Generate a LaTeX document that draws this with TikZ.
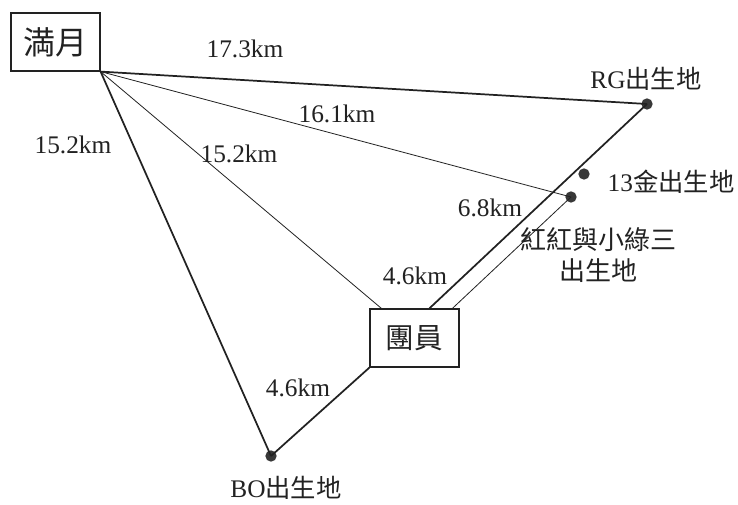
\documentclass[tikz,border=0pt]{standalone}
\usepackage{fontspec}
\setmainfont{Liberation Serif}
\newfontfamily\cjk{Noto Sans CJK TC}
\usetikzlibrary{calc}
\definecolor{ink}{HTML}{222222}
\tikzset{
  boxnode/.style={draw=ink, line width=0.9pt, minimum width=66.75pt, minimum height=43.5pt, inner sep=0pt, text=ink},
  dotnode/.style={circle, fill=ink!90, inner sep=0pt, minimum size=8.5pt},
  lbl/.style={text=ink, inner sep=0pt, font=\fontsize{19}{22}\selectfont},
  thickline/.style={draw=ink, line width=1.3pt},
  thinline/.style={draw=ink, line width=0.6pt}
}
\begin{document}
\begin{tikzpicture}[x=0.75pt,y=-0.75pt]
\useasboundingbox (0,0) rectangle (738,505);
\fill[white] (0,0) rectangle (738,505);
% boxes
\node[boxnode, font=\cjk\fontsize{24}{26}\selectfont] (moon) at (55.5,42) {満月};
\node[boxnode, font=\cjk\fontsize{21.5}{24}\selectfont] (team) at (414.5,338) {團員};
% dots
\node[dotnode] (rg) at (647,104) {};
\node[dotnode] (jin) at (584,174) {};
\node[dotnode] (hh) at (571,197) {};
\node[dotnode] (bo) at (271,456) {};
% anchor points on team box
\coordinate (tA) at ($(team.north west)+(12,0)$);
\coordinate (tB) at ($(team.north west)+(60,0)$);
\coordinate (tC) at ($(team.north west)+(83,0)$);
% connectors
\draw[thickline] (moon.south east) -- (rg.center);
\draw[thinline] (moon.south east) -- (hh.center);
\draw[thinline] (moon.south east) -- (tA);
\draw[thickline] (moon.south east) -- (bo.center);
\draw[thickline] (rg.center) -- (tB);
\draw[thinline] (hh.center) -- (tC);
\draw[thickline] (bo.center) -- (team.south west);
% distance labels
\node[lbl] (d1) at (245,49) {17.3km};
\node[lbl] (d2) at (337,114) {16.1km};
\node[lbl] (d3) at (73,145) {15.2km};
\node[lbl] (d4) at (239,154) {15.2km};
\node[lbl] (d5) at (490,208) {6.8km};
\node[lbl] (d6) at (415,276) {4.6km};
\node[lbl] (d7) at (298,388) {4.6km};
% place labels
\node[lbl] (lrg) at (646,79) {RG{\cjk 出生地}};
\node[lbl] (ljin) at (671,182) {13{\cjk 金出生地}};
\node[lbl, align=center, font=\cjk\fontsize{19.5}{23}\selectfont] (lhh) at (598,255) {紅紅與小綠三\\出生地};
\node[lbl] (lbo) at (286,488) {BO{\cjk 出生地}};
\end{tikzpicture}
\end{document}
